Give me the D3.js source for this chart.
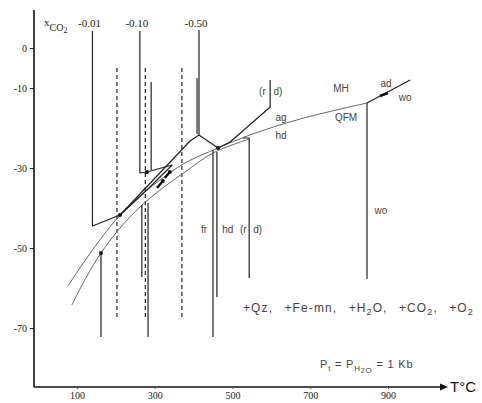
<!DOCTYPE html>
<html>
<head>
<meta charset="utf-8">
<script src="https://cdn.jsdelivr.net/npm/d3@7"></script>
<style>
  html, body { margin: 0; padding: 0; background: #fff; }
  svg { display: block; }
  .num { font-family: "Liberation Serif", "DejaVu Serif", serif; fill: #222; }
  .lab { font-family: "Liberation Sans", "DejaVu Sans", sans-serif; fill: #444; }
</style>
</head>
<body>
<script>
// log fO2 – T section for Ca–Fe silicates at several fluid compositions
const yTicks = [0, -10, -30, -50, -70];
const xTicks = [100, 300, 500, 700, 900];
const co2Labels = ["-0.01", "-0.10", "-0.50"];
const co2Temps = [140, 262, 414];

// oxygen buffer curves [T °C, log fO2]
const bufferUpper = [[77,-59.5],[113,-54.25],[159,-48],[211,-41.75],[262,-37],[314,-33],[378,-28.75],[463,-25],[545,-21.75],[674,-17.75],[846,-13.75]];
const bufferLower = [[87,-64.25],[123,-57.5],[162,-51.25],[211,-45],[262,-39.75],[314,-35.5],[378,-31],[450,-26.25],[543,-22.75]];

// univariant reaction lines
const reactions = [
  [[140,4.25],[140,-44.5],[211,-41.75]],
  [[262,4.25],[262,-31.25],[280,-31],[345,-29.25]],
  [[414,4.5],[414,-21.75],[463,-25]],
  [[414,-21.75],[391,-23.25],[211,-41.75]],
  [[345,-29.25],[280,-35.5],[211,-41.75]],
  [[463,-25],[494,-23.5],[597,-14.75],[597,-8]],
  [[846,-13.75],[957,-8]],
  [[291,-8.5],[291,-30.5]],
  [[409,-7.5],[409,-21.5]],
  [[162,-51.25],[162,-72.25]],
  [[267,-39.25],[267,-57.25]],
  [[283,-38.75],[283,-72.25]],
  [[450,-25.5],[450,-72.25]],
  [[460,-26],[460,-62.25]],
  [[527,-22.5],[543,-22.5],[543,-57.5]],
  [[846,-13.75],[846,-57.75]]
];
// heavier segments where reactions overlap
const heavy = [
  [[306,-35],[321,-33.25]],
  [[326,-32.5],[339,-31]],
  [[879,-12],[900,-11.25]]
];
// metastable extensions (dashed)
const dashedTemps = [203, 276, 370];
const dashedRange = [-5, -67.25];

// invariant points
const points = [[211,-41.75],[162,-51.25],[280,-31],[463,-25],[321,-33.25],[339,-31]];

// phase labels [text, T, log fO2]
const labels = [
  ["MH", 779, -10], ["QFM", 792, -17.25], ["ad", 895, -8.75], ["wo", 944, -12.25],
  ["ag", 625, -17.25], ["hd", 625, -21.75],
  ["(r", 577, -10.75], ["d)", 617, -10.75],
  ["fr", 427, -45.25], ["hd", 488, -45.25], ["(r", 528, -45.25], ["d)", 565, -45.25],
  ["wo", 882, -40.5]
];

const W = 482, H = 403;
const svg = d3.select("body").append("svg").attr("width", W).attr("height", H);

const x = d3.scaleLinear().domain([0, 900]).range([38, 388]);
const y = d3.scaleLinear().domain([0, -70]).range([48, 328]);

const line = d3.line().x(d => x(d[0])).y(d => y(d[1]));
const curve = d3.line().x(d => x(d[0])).y(d => y(d[1])).curve(d3.curveCatmullRom.alpha(0.5));

// frame axes
const axX0 = 34, axY0 = 387;
svg.append("line").attr("x1", axX0).attr("x2", axX0).attr("y1", 10).attr("y2", axY0)
  .attr("stroke", "#111").attr("stroke-width", 1.6);
svg.append("line").attr("x1", axX0).attr("x2", 440).attr("y1", axY0).attr("y2", axY0)
  .attr("stroke", "#111").attr("stroke-width", 1.6);
svg.append("path").attr("d", `M440,${axY0-3.5}L448,${axY0}L440,${axY0+3.5}Z`).attr("fill", "#111");
svg.append("text").attr("x", 450).attr("y", axY0 + 5).attr("class", "lab")
  .style("font-size", "15px").style("fill", "#111").text("T°C");

const gy = svg.append("g").attr("transform", `translate(${axX0},0)`)
  .call(d3.axisLeft(y).tickValues(yTicks).tickSize(4).tickPadding(3).tickFormat(d => d === 0 ? "0" : "-" + Math.abs(d)));
gy.select(".domain").remove();
gy.selectAll("line").attr("stroke", "#222");
gy.selectAll("text").attr("class", "num").style("font-size", "10px");

const gx = svg.append("g").attr("transform", `translate(0,${axY0})`)
  .call(d3.axisBottom(x).tickValues(xTicks).tickSize(2).tickPadding(3));
gx.select(".domain").remove();
gx.selectAll("line").attr("stroke", "#555");
gx.selectAll("text").attr("class", "num").style("font-size", "10px");

// dashed extensions
svg.append("g").selectAll("line").data(dashedTemps).join("line")
  .attr("x1", d => x(d)).attr("x2", d => x(d))
  .attr("y1", y(dashedRange[0])).attr("y2", y(dashedRange[1]))
  .attr("stroke", "#333").attr("stroke-width", 1.3).attr("stroke-dasharray", "4,3");

// buffer curves
svg.append("g").selectAll("path").data([bufferUpper, bufferLower]).join("path")
  .attr("d", curve).attr("fill", "none").attr("stroke", "#666").attr("stroke-width", 1);

// reactions
svg.append("g").selectAll("path").data(reactions).join("path")
  .attr("d", line).attr("fill", "none").attr("stroke", "#222").attr("stroke-width", 1.2)
  .attr("stroke-linejoin", "round");
svg.append("g").selectAll("path").data(heavy).join("path")
  .attr("d", line).attr("fill", "none").attr("stroke", "#111").attr("stroke-width", 2.4);

svg.append("g").selectAll("circle").data(points).join("circle")
  .attr("cx", d => x(d[0])).attr("cy", d => y(d[1])).attr("r", 2).attr("fill", "#111");

// fluid composition labels
const xco2 = svg.append("text").attr("class", "num").attr("x", 44).attr("y", 26).style("font-size", "11px");
xco2.append("tspan").text("x");
xco2.append("tspan").attr("dy", 5).style("font-size", "10px").text("CO");
xco2.append("tspan").attr("dy", 2).style("font-size", "8px").text("2");
svg.append("g").selectAll("text").data(co2Labels).join("text")
  .attr("class", "num").style("font-size", "11px").attr("text-anchor", "middle")
  .attr("x", (d, i) => x(co2Temps[i]) - 3).attr("y", 27).text(d => d);

svg.append("g").selectAll("text").data(labels).join("text")
  .attr("class", "lab").style("font-size", "10px").attr("text-anchor", "middle")
  .attr("x", d => x(d[1])).attr("y", d => y(d[2]) + 3.5).text(d => d[0]);

// fluid / assemblage note
const note = svg.append("text").attr("class", "lab").attr("x", 243).attr("y", 312)
  .style("font-size", "12px").style("letter-spacing", "1.1px").style("word-spacing", "7px");
note.append("tspan").text("+Qz, +Fe-mn, +H");
note.append("tspan").attr("dy", 3).style("font-size", "9px").text("2");
note.append("tspan").attr("dy", -3).text("O, +CO");
note.append("tspan").attr("dy", 3).style("font-size", "9px").text("2");
note.append("tspan").attr("dy", -3).text(", +O");
note.append("tspan").attr("dy", 3).style("font-size", "9px").text("2");

const pn = svg.append("text").attr("class", "lab").attr("x", 320).attr("y", 368)
  .style("font-size", "11px").style("letter-spacing", "0.8px");
pn.append("tspan").text("P");
pn.append("tspan").attr("dy", 3).style("font-size", "8px").text("t");
pn.append("tspan").attr("dy", -3).text(" = P");
pn.append("tspan").attr("dy", 3).style("font-size", "8px").text("H");
pn.append("tspan").attr("dy", 2).style("font-size", "7px").text("2");
pn.append("tspan").style("font-size", "8px").text("O");
pn.append("tspan").attr("dy", -5).text(" = 1 Kb");
</script>
</body>
</html>
